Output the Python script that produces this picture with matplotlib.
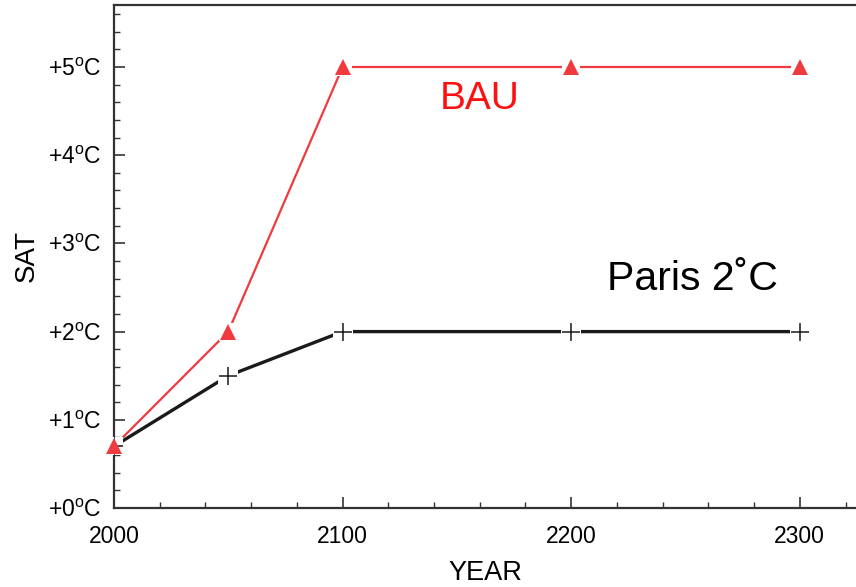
import matplotlib.pyplot as plt
from matplotlib.ticker import MultipleLocator

plt.rcParams['font.family'] = ['Liberation Sans', 'DejaVu Sans']
plt.rcParams['mathtext.fontset'] = 'custom'
plt.rcParams['mathtext.rm'] = 'Liberation Sans'

years = [2000, 2050, 2100, 2200, 2300]
bau = [0.7, 2.0, 5.0, 5.0, 5.0]
paris = [0.7, 1.5, 2.0, 2.0, 2.0]
yticks = [0, 1, 2, 3, 4, 5]
ylabels = ['+%d$^{\\mathrm{o}}$C' % v for v in yticks]
xticks = [2000, 2100, 2200, 2300]

fig = plt.figure(figsize=(8.56, 5.87), dpi=100)
ax = fig.add_axes([114 / 856, 1 - 508 / 587, 1 - 114 / 856, 503 / 587])

red = '#f03a3e'
# lines first, then white halo so the line stops short of each marker
ax.plot(years, paris, color='#1a1a1a', lw=2.4, zorder=2)
ax.plot(years, bau, color=red, lw=1.6, zorder=2)
ax.plot(years[1:], paris[1:], 's', color='white', ms=15, mew=0, zorder=3)
ax.plot(years, bau, 's', color='white', ms=13, mew=0, zorder=3, clip_on=False)
ax.plot(years, paris, '+', color='#1a1a1a', ms=13, mew=1.1, zorder=4)
ax.plot(years, bau, '^', color=red, ms=12, mew=0, zorder=5, clip_on=False)

ax.text(2160, 4.64, 'BAU', color='#ff1010', fontsize=28, ha='center', va='center')
ax.text(2253, 2.6, 'Paris 2˚C', color='black', fontsize=29.5, ha='center', va='center')

ax.set_xlim(2000, 2000 + 742 / 2.286)
ax.set_ylim(0, 503 / 88.2)
ax.set_xticks(xticks)
ax.set_yticks(yticks)
ax.set_yticklabels(ylabels)
ax.xaxis.set_minor_locator(MultipleLocator(20))
ax.yaxis.set_minor_locator(MultipleLocator(0.2))
ax.tick_params(which='both', direction='in', labelsize=16.5, color='#333333')
ax.tick_params(which='major', length=8, width=1.2)
ax.tick_params(which='minor', length=4, width=1)
ax.tick_params(axis='x', pad=12)
ax.tick_params(axis='y', pad=9)
ax.spines['right'].set_visible(False)
for s in ['left', 'bottom', 'top']:
    ax.spines[s].set_color('#333333')
    ax.spines[s].set_linewidth(1.6)

ax.set_xlabel('YEAR', fontsize=19.5, labelpad=9)
ax.set_ylabel('SAT', fontsize=20, labelpad=6)

fig.savefig('out.png', dpi=100)
